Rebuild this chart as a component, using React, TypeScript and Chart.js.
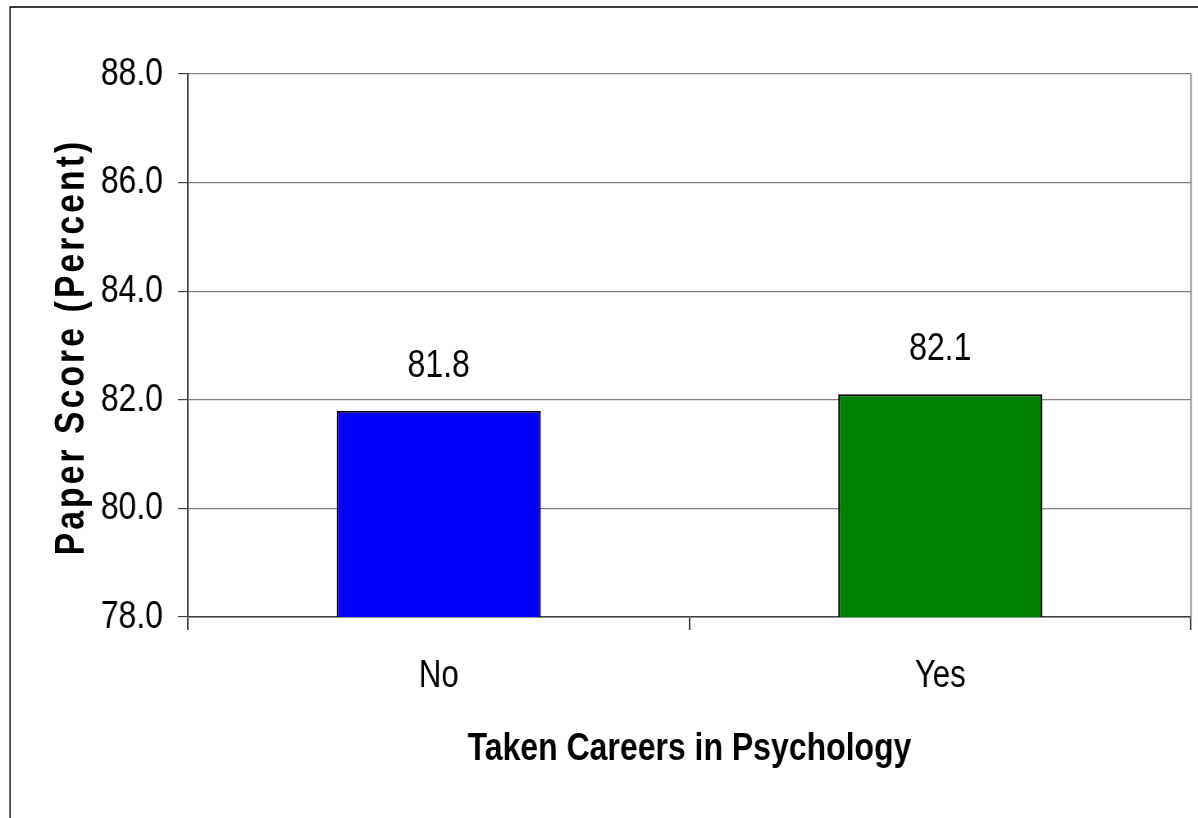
import React, { useEffect, useRef } from "react";
import { Chart, registerables } from "chart.js";
Chart.register(...registerables);

const categories = ["No", "Yes"];
const scores = [81.8, 82.1];
const barColors = ["#0000FF", "#008000"];
const yTicks = [78, 80, 82, 84, 86, 88];
const xTitle = "Taken Careers in Psychology";
const yTitle = "Paper Score (Percent)";

const FONT = '"Liberation Sans", Arial, sans-serif';
// The reference uses a narrow face (Arial Narrow); emulate it by compressing the canvas horizontally.
const PAGE_W = 1198;
const PAGE_H = 818;
const CW = 1461;
const S = PAGE_W / CW;
const px = (v: number) => v / S;

export default function App() {
  const ref = useRef<HTMLCanvasElement>(null);
  useEffect(() => {
    const canvas = ref.current!;
    const framePlugin = {
      id: "frame",
      afterDraw(chart: any) {
        const { ctx, chartArea } = chart;
        ctx.save();
        ctx.strokeStyle = "#000";
        ctx.lineWidth = 1.5;
        ctx.beginPath();
        ctx.moveTo(px(10), chart.height + 5);
        ctx.lineTo(px(10), 7);
        ctx.lineTo(chart.width + 5, 7);
        ctx.stroke();
        ctx.strokeStyle = "#808080";
        ctx.lineWidth = 1.8;
        ctx.beginPath();
        ctx.moveTo(chartArea.right, chartArea.top);
        ctx.lineTo(chartArea.right, chartArea.bottom);
        ctx.stroke();
        const meta = chart.getDatasetMeta(0);
        ctx.fillStyle = "#000";
        ctx.font = `39px ${FONT}`;
        ctx.textAlign = "center";
        ctx.textBaseline = "alphabetic";
        meta.data.forEach((bar: any, i: number) => {
          ctx.fillText(scores[i].toFixed(1), bar.x, bar.y - 34);
        });
        ctx.translate(px(72), 347);
        ctx.scale(1 / S, 1);
        ctx.rotate(-Math.PI / 2);
        ctx.scale(0.82, 1);
        ctx.font = `bold 41px ${FONT}`;
        (ctx as any).letterSpacing = "3.8px";
        ctx.textBaseline = "middle";
        ctx.fillText(yTitle, 0, 0);
        ctx.restore();
      },
    };
    const chart = new Chart(canvas, {
      type: "bar",
      data: {
        labels: categories,
        datasets: [
          {
            data: scores,
            backgroundColor: barColors,
            borderColor: "#000",
            borderWidth: 2,
            barPercentage: 0.407,
            categoryPercentage: 1,
          },
        ],
      },
      options: {
        animation: false,
        responsive: false,
        maintainAspectRatio: false,
        devicePixelRatio: 1,
        layout: { padding: { top: 74, right: px(7), bottom: 0, left: 0 } },
        plugins: { legend: { display: false }, tooltip: { enabled: false } },
        scales: {
          x: {
            grid: { drawOnChartArea: false, offset: true, tickLength: 13, color: "#404040", lineWidth: 2 },
            border: { color: "#404040", width: 1.5 },
            ticks: { color: "#000", font: { family: FONT, size: 38 }, padding: 24 },
            title: {
              display: true,
              text: xTitle,
              color: "#000",
              font: { family: FONT, size: 39, weight: "bold" },
              padding: { top: 0, bottom: 45 },
            },
            afterFit: (s: any) => {
              s.height = PAGE_H - 617;
            },
          },
          y: {
            min: 78,
            max: 88,
            afterBuildTicks: (s: any) => {
              s.ticks = yTicks.map((v) => ({ value: v }));
            },
            ticks: {
              callback: (v: any) => Number(v).toFixed(1),
              color: "#000",
              font: { family: FONT, size: 39 },
              padding: px(15),
            },
            grid: { color: "#808080", lineWidth: 1.2, tickLength: px(10), tickColor: "#404040" },
            border: { color: "#404040", width: 2 },
            afterFit: (s: any) => {
              s.width = px(188);
            },
          },
        },
      },
      plugins: [framePlugin],
    } as any);
    return () => chart.destroy();
  }, []);
  return (
    <div style={{ position: "fixed", left: 0, top: 0, width: PAGE_W, height: PAGE_H, background: "#fff", overflow: "hidden" }}>
      <div style={{ width: CW, height: PAGE_H, transform: `scaleX(${S})`, transformOrigin: "0 0" }}>
        <canvas ref={ref} width={CW} height={PAGE_H} style={{ width: CW, height: PAGE_H, display: "block" }} />
      </div>
    </div>
  );
}
